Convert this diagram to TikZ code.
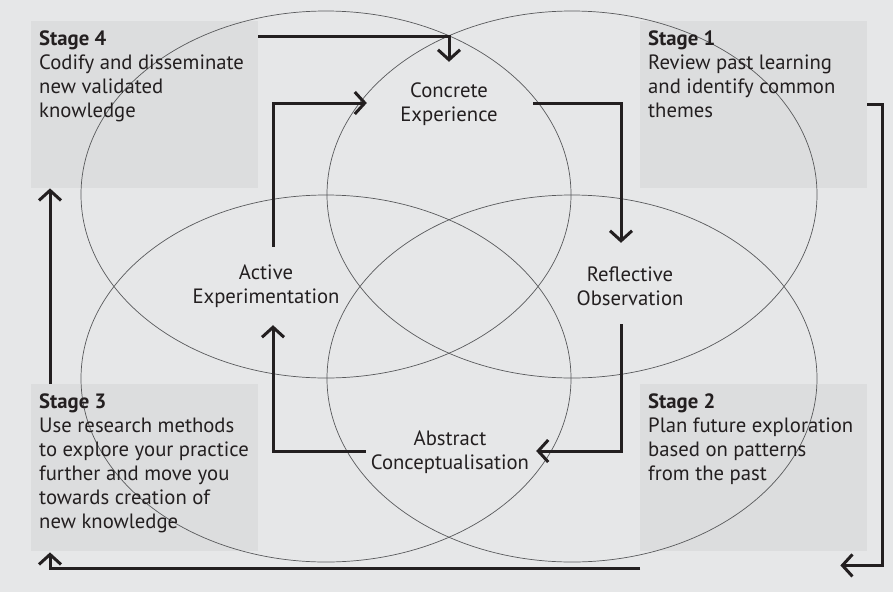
\documentclass[tikz,border=0pt]{standalone}
\usepackage{fontspec}
\setmainfont{PT Sans}
\usetikzlibrary{arrows.meta}

\definecolor{panel}{HTML}{E6E7E8}
\definecolor{stagefill}{HTML}{DCDDDE}
\definecolor{ink}{HTML}{231F20}
\definecolor{ringcol}{HTML}{58595B}

\begin{document}
\begin{tikzpicture}[x=1pt,y=-1pt,
    stagebox/.style={rectangle,fill=stagefill,anchor=north west,minimum width=227pt,minimum height=167pt,inner sep=0pt},
    stagetext/.style={anchor=north west,align=left,inner xsep=8pt,inner ysep=10pt,text=ink,font=\fontsize{20.7}{24}\selectfont},
    mode/.style={align=center,minimum width=180pt,minimum height=56pt,inner sep=0pt,text=ink,font=\fontsize{20.7}{24}\selectfont},
    ring/.style={draw=ringcol,line width=0.7pt},
    flow/.style={draw=ink,line width=3pt,->}]
\useasboundingbox[fill=panel] (0,0) rectangle (893,592);

\begin{scope}[every node/.style=stagebox]
    \node (stage4) at (31,21) {};
    \node (stage1) at (640,21) {};
    \node (stage3) at (31,384) {};
    \node (stage2) at (640,384) {};
\end{scope}

% four overlapping ellipses
\draw[ring] (326,194.5) ellipse [x radius=245,y radius=183.5];
\draw[ring] (572,194.5) ellipse [x radius=245,y radius=183.5];
\draw[ring] (326,378.5) ellipse [x radius=245,y radius=183.5];
\draw[ring] (572,378.5) ellipse [x radius=245,y radius=183.5];

\begin{scope}[every node/.style=stagetext]
    \node (stage4text) at (stage4.north west) {\textbf{Stage 4}\\Codify and disseminate\\new validated\\knowledge};
    \node (stage1text) at (stage1.north west) {\textbf{Stage 1}\\Review past learning\\and identify common\\themes};
    \node (stage2text) at (stage2.north west) {\textbf{Stage 2}\\Plan future exploration\\based on patterns\\from the past};
    \node (stage3text) at (stage3.north west) {\textbf{Stage 3}\\Use research methods\\to explore your practice\\further and move you\\towards creation of\\new knowledge};
\end{scope}

\begin{scope}[every node/.style=mode]
    \node (concrete) at (449,104) {Concrete\\Experience};
    \node (reflective) at (630,286) {Reflective\\Observation};
    \node (active) at (266,286) {Active\\Experimentation};
    \node (abstract) at (450,452) {Abstract\\Conceptualisation};
\end{scope}

\begin{scope}[>={Straight Barb[length=10pt,width=22pt]}]
    % inner cycle
    \draw[flow] ([xshift=-6pt,yshift=1pt]concrete.east) -| ([xshift=-9pt,yshift=15pt]reflective.north);
    \draw[flow] ([xshift=-9pt,yshift=-10pt]reflective.south) |- ([xshift=-4pt,yshift=1pt]abstract.east);
    \draw[flow] ([xshift=6pt,yshift=1pt]abstract.west) -| ([xshift=7pt,yshift=-11pt]active.south);
    \draw[flow] ([xshift=7pt,yshift=11pt]active.north) |- ([xshift=8pt,yshift=1pt]concrete.west);
    % outer cycle
    \draw[flow] (stage1.east) -- ++(15,0) |- ([xshift=-27pt,yshift=-14pt]stage2.south east);
    \draw[flow] ([yshift=-17pt]stage2.south west) -| ([xshift=19pt,yshift=-1pt]stage3.south west);
    \draw[flow] ([xshift=19pt]stage3.north west) -- ([xshift=19pt]stage4.south west);
    \draw[flow] ([yshift=-15pt]stage4.north east) -| ([yshift=14pt]concrete.north);
\end{scope}
\end{tikzpicture}
\end{document}
